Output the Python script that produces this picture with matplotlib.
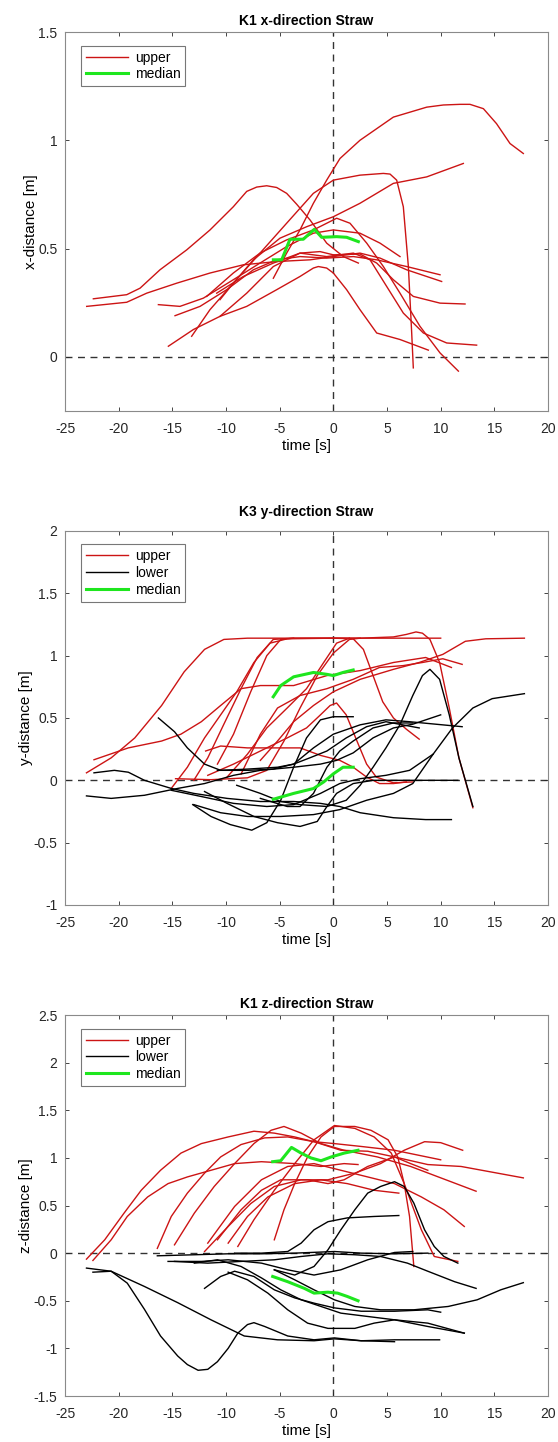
import matplotlib
matplotlib.use("Agg")
import matplotlib.pyplot as plt

plt.rcParams['font.family'] = ['Liberation Sans', 'DejaVu Sans']
plt.rcParams['axes.unicode_minus'] = False

RED = '#cc1414'
GREEN = '#1ee61e'

# ---------------- K1 x-direction: upper trajectories ----------------
x_upper_t = [
    [-5.59, -4.35, -3.11, -1.86, -0.62, 0.62, 2.48, 5.59, 8.70, 10.25, 11.80, 12.73, 13.98, 15.2, 16.46, 17.70],
    [-22.36, -19.25, -18.01, -16.15, -13.66, -11.49, -9.32, -8.07, -7.14, -6.21, -5.28, -4.35, -3.42, -2.17, -0.62, 0.93, 2.33],
    [-22.98, -19.25, -17.39, -14.60, -11.49, -8.39, -5.28, -2.17, 0, 2.48, 4.35, 6.83, 10.09],
    [-10.56, -9.32, -7.45, -4.97, -2.48, 0, 2.48, 5.59, 8.70, 12.11],
    [-13.20, -11.49, -9.32, -6.83, -4.35, -1.86, 0, 2.48, 4.66, 5.28, 5.90, 6.52, 6.99, 7.30, 7.45],
    [-16.30, -14.29, -12.11, -9.32, -6.83, -4.35, -1.86, 0, 2.48, 4.35, 6.21],
    [-14.75, -12.42, -9.94, -7.45, -5.28, -3.11, -0.62, 1.86, 4.04, 6.83, 9.94],
    [-15.37, -13.04, -10.56, -8.07, -5.28, -3.11, -1.86, -1.40, -0.62, 0, 1.24, 2.48, 4.04, 6.21, 8.85],
    [-11.80, -9.32, -6.83, -4.35, -1.86, 0.31, 1.55, 3.11, 4.66, 6.21, 8.07, 9.94, 11.65],
    [-10.87, -8.39, -5.59, -3.11, -1.24, 0, 2.48, 4.04, 5.59, 7.45, 9.94, 12.27],
    [-10.56, -8.07, -5.59, -3.11, -0.62, 1.86, 3.42, 4.97, 6.52, 8.39, 10.56, 13.35],
]
x_upper_y = [
    [0.363, 0.479, 0.586, 0.709, 0.816, 0.916, 1.0, 1.107, 1.153, 1.163, 1.166, 1.166, 1.146, 1.077, 0.985, 0.939],
    [0.268, 0.287, 0.317, 0.402, 0.494, 0.586, 0.693, 0.764, 0.784, 0.790, 0.782, 0.755, 0.705, 0.632, 0.525, 0.463, 0.433],
    [0.233, 0.252, 0.294, 0.340, 0.387, 0.425, 0.440, 0.448, 0.463, 0.479, 0.456, 0.402, 0.348],
    [0.264, 0.340, 0.448, 0.548, 0.601, 0.647, 0.709, 0.801, 0.831, 0.893],
    [0.095, 0.218, 0.340, 0.479, 0.617, 0.755, 0.816, 0.839, 0.847, 0.844, 0.816, 0.693, 0.417, 0.110, -0.051],
    [0.241, 0.233, 0.271, 0.356, 0.433, 0.509, 0.571, 0.586, 0.571, 0.525, 0.463],
    [0.190, 0.233, 0.310, 0.402, 0.448, 0.463, 0.456, 0.463, 0.448, 0.417, 0.379],
    [0.049, 0.126, 0.187, 0.233, 0.310, 0.371, 0.410, 0.417, 0.410, 0.387, 0.310, 0.218, 0.110, 0.080, 0.031],
    [0.279, 0.387, 0.479, 0.540, 0.586, 0.640, 0.617, 0.525, 0.417, 0.294, 0.141, 0.018, -0.066],
    [0.294, 0.371, 0.433, 0.479, 0.486, 0.471, 0.475, 0.433, 0.356, 0.279, 0.248, 0.244],
    [0.187, 0.294, 0.417, 0.479, 0.463, 0.479, 0.448, 0.325, 0.202, 0.110, 0.064, 0.054],
]
x_median_t = [[-5.59, -4.81, -4.04, -2.80, -1.77, -1.09, 0.31, 1.24, 2.33]]
x_median_y = [[0.448, 0.448, 0.543, 0.543, 0.589, 0.552, 0.555, 0.552, 0.532]]

# ---------------- K3 y-direction ----------------
y_upper_t = [
    [-23.0, -20.7, -18.5, -16.0, -13.9, -12.0, -10.2, -8.0, 0, 10.0],
    [-22.3, -19.1, -16.0, -14.2, -12.3, -10.5, -8.6, -6.8, -3.7, -0.6, 2.5, 5.6, 8.6, 11.0],
    [-15.1, -13.6, -12.0, -10.5, -9.0, -7.4, -5.9, -4.3, 0, 1.85, 2.8, 3.7, 4.6, 5.6, 6.8, 8.0],
    [-11.7, -9.3, -6.8, -4.3, -2.5, -1.2, -0.3, 0.3, 1.2, 2.2, 3.1, 4.0, 5.6, 7.4],
    [-10.8, -9.3, -7.7, -6.2, -4.9, -3.7, 2.5, 5.6, 6.8, 7.7, 8.3, 9.0, 9.9, 10.8, 11.7, 13.0],
    [-6.8, -5.2, -3.7, -1.85, 0, 2.5, 5.6, 8.0, 10.2, 12.3, 14.2, 17.8],
    [-11.9, -10.5, -8.0, -5.6, -3.1, -1.2, 0.6, 1.85, 3.1, 4.3, 5.6, 6.8],
    [-14.7, -11.4, -8.0, -6.2, -4.6, -3.1, -1.5, 0, 1.5, 2.5],
    [-13.0, -11.7, -10.2, -8.6, -7.1, -5.6, -3.7],
    [-9.9, -8.0, -6.2, -4.3, -2.5, -0.9, 0.3, 1.5],
    [-8.6, -6.8, -5.2, -3.1, -0.6, 1.85, 4.3, 6.5, 8.3, 10.2, 12.0],
]
y_upper_y = [
    [0.06, 0.18, 0.34, 0.60, 0.87, 1.05, 1.13, 1.14, 1.14, 1.14],
    [0.165, 0.26, 0.315, 0.37, 0.47, 0.60, 0.735, 0.76, 0.76, 0.84, 0.88, 0.945, 0.985, 0.905],
    [-0.065, 0.105, 0.34, 0.525, 0.71, 0.945, 1.10, 1.135, 1.14, 1.135, 1.05, 0.84, 0.63, 0.50, 0.41, 0.33],
    [0.04, 0.13, 0.235, 0.34, 0.42, 0.525, 0.60, 0.62, 0.525, 0.315, 0.13, 0.026, -0.02, -0.013],
    [0.13, 0.37, 0.71, 1.0, 1.13, 1.14, 1.14, 1.15, 1.17, 1.19, 1.18, 1.13, 0.945, 0.58, 0.18, -0.22],
    [0.16, 0.315, 0.47, 0.60, 0.71, 0.81, 0.89, 0.945, 1.01, 1.115, 1.135, 1.14],
    [0.235, 0.275, 0.26, 0.26, 0.26, 0.20, 0.16, 0.105, 0.026, -0.026, -0.026, -0.013],
    [0.013, 0.005, 0.02, 0.08, 0.315, 0.58, 0.84, 1.02, 1.13, 1.14],
    [0.0, 0.18, 0.45, 0.735, 0.985, 1.13, 1.14],
    [0.026, 0.21, 0.42, 0.58, 0.735, 0.945, 1.10, 1.14],
    [0.05, 0.37, 0.58, 0.68, 0.735, 0.81, 0.905, 0.92, 0.945, 0.975, 0.93],
]
y_lower_t = [
    [-23.0, -20.7, -17.6, -14.5, -12.0, -9.3, -6.8, -3.7, -1.2, 0.3, 1.85, 3.7, 5.6, 7.4, 10.0],
    [-22.3, -20.4, -19.1, -17.6, -15.1, -13.0, -9.9, -6.8, -3.7, -1.2, 0.6, 2.5, 5.6, 8.6, 11.0],
    [-16.3, -14.8, -13.6, -12.0, -10.5, -8.0, -5.2, -3.7, -1.85, 0, 2.5, 4.9, 7.1, 12.0],
    [-9.0, -6.8, -4.9, -3.1, -0.6, 1.2, 2.5, 3.7, 4.9, 6.2, 7.4, 8.3, 9.0, 9.9, 10.8, 11.7, 13.0],
    [-13.0, -10.5, -8.0, -4.9, -1.85, 0.6, 3.1, 5.6, 7.4, 9.3, 11.1, 13.0, 14.8, 17.8],
    [-13.1, -11.4, -9.6, -7.6, -6.2, -4.9, -3.7, -2.5, -1.2, 0, 1.85],
    [-12.0, -9.9, -7.4, -5.2, -3.1, -1.5, -0.6, 0.3, 1.85, 3.7, 5.6, 11.6],
    [-15.1, -12.3, -9.3, -6.2, -3.7, -1.2, 0.6, 2.5, 4.9, 7.1, 9.3],
    [-10.8, -8.0, -5.6, -3.7, -2.2, -0.6, 1.2, 3.1, 4.9, 8.0],
    [-6.8, -4.3, -3.1, -1.85, -0.6, 0.6, 1.85, 3.7, 5.6, 7.4],
]
y_lower_y = [
    [-0.125, -0.145, -0.12, -0.065, -0.026, 0.04, 0.08, 0.105, 0.13, 0.16, 0.22, 0.34, 0.42, 0.45, 0.525],
    [0.06, 0.08, 0.065, 0.0, -0.065, -0.105, -0.145, -0.17, -0.17, -0.185, -0.21, -0.26, -0.30, -0.315, -0.315],
    [0.50, 0.39, 0.26, 0.13, 0.08, 0.09, 0.105, 0.13, 0.26, 0.37, 0.445, 0.485, 0.47, 0.43],
    [-0.04, -0.105, -0.17, -0.195, -0.21, -0.16, -0.04, 0.105, 0.26, 0.445, 0.68, 0.84, 0.89, 0.81, 0.525, 0.18, -0.21],
    [-0.195, -0.26, -0.29, -0.29, -0.275, -0.235, -0.16, -0.105, -0.026, 0.21, 0.42, 0.58, 0.655, 0.695],
    [-0.195, -0.29, -0.355, -0.40, -0.34, -0.16, 0.105, 0.34, 0.485, 0.51, 0.51],
    [-0.09, -0.185, -0.29, -0.34, -0.37, -0.33, -0.21, -0.105, -0.026, 0.0, 0.0, 0.0],
    [-0.08, -0.13, -0.185, -0.21, -0.195, -0.105, -0.026, 0.013, 0.04, 0.08, 0.21],
    [0.08, 0.08, 0.09, 0.13, 0.18, 0.235, 0.34, 0.43, 0.47, 0.42],
    [-0.145, -0.21, -0.21, -0.105, 0.105, 0.235, 0.315, 0.42, 0.46, 0.46],
]
y_median_t = [
    [-5.6, -4.9, -3.7, -1.85, -0.6, 0, 0.9, 1.85],
    [-5.6, -3.7, -1.85, -0.9, 0, 0.9, 1.85],
]
y_median_y = [
    [0.67, 0.76, 0.83, 0.865, 0.85, 0.84, 0.865, 0.885],
    [-0.152, -0.105, -0.066, -0.013, 0.052, 0.105, 0.105],
]

# ---------------- K1 z-direction ----------------
z_upper_t = [
    [-23.0, -21.3, -19.5, -17.9, -16.1, -14.2, -12.3, -9.8, -7.4, -5.5, -3.6, -1.8, 0.1, 2.6, 5.7, 10.0],
    [-22.4, -20.7, -19.2, -17.3, -15.4, -13.6, -11.4, -9.2, -6.7, -3.6, -1.15, 1.0, 2.3],
    [-16.4, -15.1, -13.6, -12.0, -10.5, -8.6, -6.4, -4.25, -1.8, 0.7, 3.2, 5.7, 7.2, 8.8],
    [-14.8, -12.95, -11.1, -9.2, -7.4, -5.8, -4.6, -3.0, -1.15, 1.0, 4.1, 7.2, 13.3],
    [-5.5, -4.6, -3.6, -2.4, -1.15, 0.1, 2.0, 3.5, 5.1, 6.0, 6.6, 7.1, 7.5],
    [-8.9, -7.4, -5.5, -3.6, -1.8, 0.1, 2.0, 3.8, 5.4, 6.6, 8.2, 9.4, 11.6],
    [-12.0, -9.8, -7.7, -5.5, -3.0, -0.5, 2.0, 4.4, 6.6, 8.5, 10.0, 12.05],
    [-10.8, -8.6, -6.7, -4.9, -2.4, -0.5, 1.0, 3.2, 5.7, 8.8, 11.9, 17.7],
    [-11.7, -9.2, -6.7, -4.25, -1.8, 0.7, 3.2, 5.7, 8.2, 10.3, 12.2],
    [-9.8, -8.0, -6.1, -3.6, -1.15, 1.3, 3.8, 6.1],
]
z_upper_y = [
    [-0.063, 0.14, 0.42, 0.66, 0.87, 1.05, 1.15, 1.22, 1.28, 1.26, 1.22, 1.17, 1.15, 1.12, 1.08, 0.98],
    [-0.077, 0.14, 0.385, 0.59, 0.73, 0.80, 0.87, 0.94, 0.96, 0.94, 0.91, 0.94, 0.93],
    [0.05, 0.385, 0.63, 0.84, 1.01, 1.14, 1.21, 1.22, 1.17, 1.08, 1.07, 1.01, 0.94, 0.87],
    [0.087, 0.42, 0.70, 0.94, 1.15, 1.29, 1.33, 1.26, 1.15, 1.08, 1.01, 0.91, 0.65],
    [0.14, 0.455, 0.73, 1.01, 1.22, 1.33, 1.33, 1.29, 1.19, 1.01, 0.73, 0.385, -0.14],
    [0.07, 0.35, 0.66, 0.94, 1.19, 1.34, 1.31, 1.22, 1.05, 0.73, 0.245, -0.035, -0.087],
    [0.017, 0.28, 0.52, 0.70, 0.77, 0.77, 0.84, 0.94, 1.08, 1.17, 1.16, 1.08],
    [0.14, 0.455, 0.66, 0.77, 0.77, 0.73, 0.77, 0.91, 1.01, 0.93, 0.91, 0.79],
    [0.105, 0.49, 0.77, 0.91, 0.94, 0.87, 0.80, 0.73, 0.59, 0.455, 0.28],
    [0.105, 0.385, 0.59, 0.73, 0.77, 0.73, 0.66, 0.63],
]
z_lower_t = [
    [-22.4, -20.7, -19.2, -17.6, -16.1, -14.5, -13.6, -12.6, -11.7, -10.8, -9.8, -8.9, -8.0, -7.4, -6.4, -4.25, -1.8, 0.1, 2.6, 5.7, 9.9],
    [-23.0, -20.7, -17.6, -14.5, -11.4, -8.3, -5.2, -1.8, 0.1, 2.6, 5.7],
    [-5.5, -3.6, -1.8, -0.5, 0.7, 2.0, 3.2, 4.4, 5.7, 6.6, 7.5, 8.5, 9.4, 10.3, 11.6],
    [-9.2, -6.7, -4.25, -3.0, -1.8, -0.5, 1.3, 3.8, 6.1],
    [-16.4, -12.95, -9.8, -6.7, -3.6, 0.1, 2.6, 5.7, 8.8],
    [-15.4, -12.3, -9.8, -6.7, -4.25, -1.8, 0.7, 3.2, 5.7, 7.4],
    [-12.0, -10.5, -9.2, -7.4, -5.5, -3.6, -1.8, 0.1, 2.6, 5.7, 8.8, 10.0],
    [-5.5, -3.6, -1.8, 0.1, 2.0, 4.4, 7.5, 10.7, 13.4, 15.6, 17.7],
    [-12.95, -10.8, -8.6, -6.7, -4.9, -3.0, -1.15, 0.7, 3.2, 5.7, 8.8, 12.2],
    [-9.8, -8.0, -6.1, -4.25, -2.4, -0.5, 2.0, 3.8, 5.7, 8.8, 12.2],
    [-14.8, -11.7, -8.6, -5.5, -3.0, -0.5, 2.0, 4.4, 6.9, 8.8, 11.3, 13.3],
]
z_lower_y = [
    [-0.20, -0.19, -0.315, -0.59, -0.87, -1.08, -1.17, -1.23, -1.22, -1.14, -1.0, -0.84, -0.75, -0.73, -0.77, -0.87, -0.91, -0.89, -0.92, -0.91, -0.91],
    [-0.157, -0.19, -0.35, -0.52, -0.70, -0.87, -0.91, -0.92, -0.90, -0.92, -0.93],
    [-0.175, -0.23, -0.14, 0.035, 0.245, 0.455, 0.63, 0.70, 0.75, 0.70, 0.525, 0.245, 0.07, -0.035, -0.105],
    [0.0, 0.0, 0.017, 0.105, 0.245, 0.33, 0.37, 0.385, 0.395],
    [-0.028, -0.017, -0.007, -0.007, 0.0, 0.017, 0.0, -0.007, 0.0],
    [-0.087, -0.087, -0.07, -0.105, -0.175, -0.23, -0.175, -0.07, 0.007, 0.017],
    [-0.37, -0.245, -0.19, -0.245, -0.385, -0.47, -0.525, -0.575, -0.61, -0.61, -0.595, -0.62],
    [-0.175, -0.28, -0.385, -0.49, -0.56, -0.595, -0.595, -0.56, -0.49, -0.385, -0.31],
    [-0.105, -0.07, -0.14, -0.26, -0.385, -0.49, -0.56, -0.63, -0.665, -0.70, -0.77, -0.84],
    [-0.20, -0.28, -0.42, -0.595, -0.735, -0.79, -0.79, -0.735, -0.70, -0.735, -0.84],
    [-0.087, -0.105, -0.087, -0.07, -0.035, -0.007, -0.017, -0.035, -0.105, -0.19, -0.30, -0.37],
]
z_median_t = [
    [-5.65, -4.9, -3.9, -3.0, -2.1, -1.15, -0.2, 1.0, 2.3],
    [-5.65, -4.25, -2.7, -1.8, -0.5, 0.4, 1.3, 2.3],
]
z_median_y = [
    [0.96, 0.97, 1.11, 1.05, 1.0, 0.97, 1.01, 1.05, 1.08],
    [-0.245, -0.30, -0.37, -0.42, -0.41, -0.42, -0.455, -0.50],
]

panels = [
    dict(title='K1 x-direction Straw', ylabel='x-distance [m]', ylim=(-0.25, 1.5),
         yticks=[0, 0.5, 1, 1.5], ytl=['0', '0.5', '1', '1.5'],
         upper=(x_upper_t, x_upper_y), lower=None, median=(x_median_t, x_median_y),
         rect=[0.1165, 0.7150, 0.8656, 0.2628], tpad=5),
    dict(title='K3 y-direction Straw', ylabel='y-distance [m]', ylim=(-1, 2),
         yticks=[-1, -0.5, 0, 0.5, 1, 1.5, 2], ytl=['-1', '-0.5', '0', '0.5', '1', '1.5', '2'],
         upper=(y_upper_t, y_upper_y), lower=(y_lower_t, y_lower_y), median=(y_median_t, y_median_y),
         rect=[0.1165, 0.3724, 0.8656, 0.2594], tpad=11),
    dict(title='K1 z-direction Straw', ylabel='z-distance [m]', ylim=(-1.5, 2.5),
         yticks=[-1.5, -1, -0.5, 0, 0.5, 1, 1.5, 2, 2.5],
         ytl=['-1.5', '-1', '-0.5', '0', '0.5', '1', '1.5', '2', '2.5'],
         upper=(z_upper_t, z_upper_y), lower=(z_lower_t, z_lower_y), median=(z_median_t, z_median_y),
         rect=[0.1165, 0.0319, 0.8656, 0.2642], tpad=5),
]

xticks = [-25, -20, -15, -10, -5, 0, 5, 10, 15, 20]

fig = plt.figure(figsize=(5.58, 14.42), dpi=100)
for p in panels:
    ax = fig.add_axes(p['rect'])
    handles = []
    ts, ys = p['upper']
    for i, (t, y) in enumerate(zip(ts, ys)):
        h, = ax.plot(t, y, color=RED, lw=1.0, label='upper' if i == 0 else None)
        if i == 0:
            handles.append(h)
    if p['lower'] is not None:
        ts, ys = p['lower']
        for i, (t, y) in enumerate(zip(ts, ys)):
            h, = ax.plot(t, y, color='black', lw=1.0, label='lower' if i == 0 else None)
            if i == 0:
                handles.append(h)
    ts, ys = p['median']
    for i, (t, y) in enumerate(zip(ts, ys)):
        h, = ax.plot(t, y, color=GREEN, lw=2.2, zorder=5, label='median' if i == 0 else None)
        if i == 0:
            handles.append(h)

    ax.axhline(0, color='#333333', lw=1.0, ls=(0, (5, 4)), zorder=1)
    ax.axvline(0, color='#333333', lw=1.0, ls=(0, (5, 4)), zorder=1)

    ax.set_xlim(-25, 20)
    ax.set_ylim(*p['ylim'])
    ax.set_xticks(xticks)
    ax.set_yticks(p['yticks'])
    ax.set_yticklabels(p['ytl'])
    ax.tick_params(direction='in', top=True, right=True, length=3, width=0.6,
                   labelsize=10, colors='#262626')
    ax.tick_params(axis='x', pad=8)
    ax.tick_params(axis='y', pad=5.5)
    for s in ax.spines.values():
        s.set_color('#8a8a8a')
        s.set_linewidth(0.8)
    ax.set_title(p['title'], fontsize=10, fontweight='bold', pad=p['tpad'])
    ax.set_xlabel('time [s]', fontsize=11, labelpad=2)
    ax.set_ylabel(p['ylabel'], fontsize=11, labelpad=0)
    leg = ax.legend(handles=handles, loc='upper left', fontsize=10, frameon=True,
                    fancybox=False, edgecolor='#555555', handlelength=3.0,
                    borderpad=0.35, labelspacing=0.2, handletextpad=0.5,
                    borderaxespad=0.3, bbox_to_anchor=(0.025, 0.975))
    leg.get_frame().set_linewidth(0.8)

fig.savefig('out.png', dpi=100)
